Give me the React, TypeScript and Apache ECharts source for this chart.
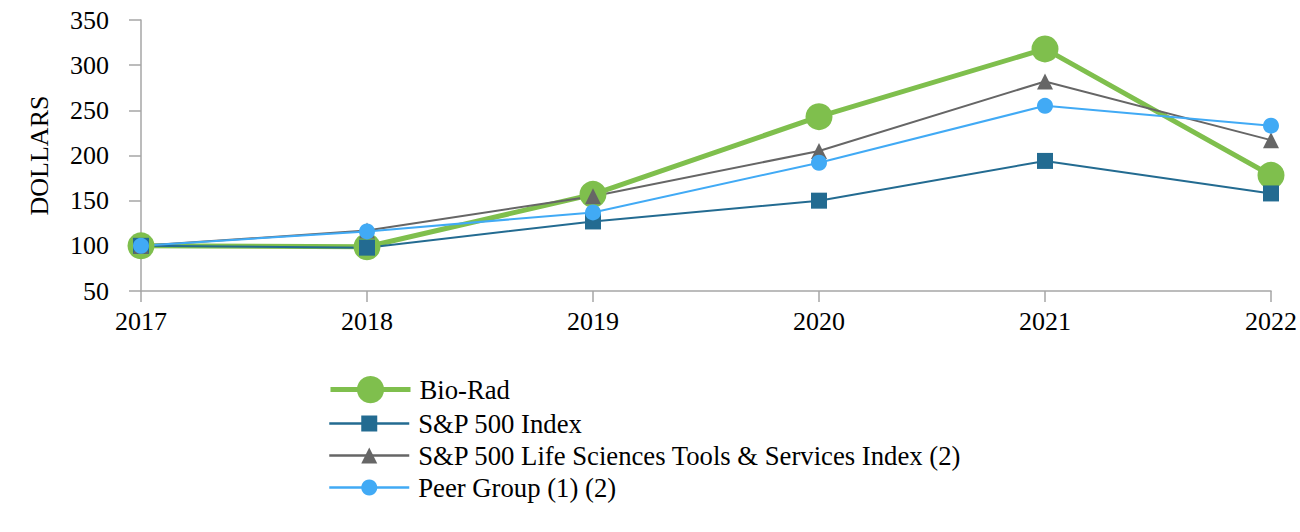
import React, { useEffect, useRef } from "react";
import * as echarts from "echarts";

const years = ["2017", "2018", "2019", "2020", "2021", "2022"];
const bioRad = [100, 99, 157, 243, 318, 178];
const sp500 = [100, 98, 127, 150, 194, 158];
const lifeSciences = [100, 117, 155, 205, 282, 217];
const peerGroup = [100, 116, 137, 192, 255, 233];
const yTicks = { min: 50, max: 350, interval: 50 };

const FONT = "Liberation Serif";
const AXIS_COLOR = "#a6a6a6";
const FS = 26;
const LEGEND_FS = 26.7;

export default function App() {
  const ref = useRef<HTMLDivElement>(null);
  useEffect(() => {
    if (!ref.current) return;
    const chart = echarts.init(ref.current, undefined, { renderer: "svg" });
    const legendText = {
      fontFamily: FONT,
      fontSize: LEGEND_FS,
      color: "#000",
      lineHeight: 27,
      padding: [0, 0, 0, 4],
    };
    chart.setOption({
      animation: false,
      backgroundColor: "#fff",
      textStyle: { fontFamily: FONT, fontSize: FS, color: "#000" },
      grid: { left: 141, right: 29, top: 20, bottom: 241, containLabel: false },
      xAxis: {
        type: "category",
        data: years,
        boundaryGap: false,
        axisLine: { lineStyle: { color: AXIS_COLOR, width: 1.5 } },
        axisTick: { show: true, length: 11, lineStyle: { color: AXIS_COLOR, width: 1.5 } },
        axisLabel: { fontFamily: FONT, fontSize: FS, color: "#000", margin: 17 },
        splitLine: { show: false },
      },
      yAxis: {
        type: "value",
        min: yTicks.min,
        max: yTicks.max,
        interval: yTicks.interval,
        name: "DOLLARS",
        nameLocation: "middle",
        nameGap: 89,
        nameTextStyle: { fontFamily: FONT, fontSize: FS, color: "#000" },
        axisLine: { show: true, lineStyle: { color: AXIS_COLOR, width: 1.5 } },
        axisTick: { show: true, length: 12, lineStyle: { color: AXIS_COLOR, width: 1.5 } },
        axisLabel: { fontFamily: FONT, fontSize: FS, color: "#000", margin: 32 },
        splitLine: { show: false },
      },
      legend: [
        {
          data: ["Bio-Rad"],
          orient: "vertical",
          left: 323,
          top: 371,
          itemWidth: 80,
          itemHeight: 34,
          itemGap: 0,
          lineStyle: { width: 5 },
          textStyle: legendText,
          selectedMode: false,
        },
        {
          data: ["S&P 500 Index", "S&P 500 Life Sciences Tools & Services Index (2)", "Peer Group (1) (2)"],
          orient: "vertical",
          left: 323,
          top: 405,
          itemWidth: 80,
          itemHeight: 20,
          itemGap: 5,
          lineStyle: { width: 2.5 },
          textStyle: legendText,
          selectedMode: false,
        },
      ],
      series: [
        {
          name: "Bio-Rad",
          type: "line",
          data: bioRad,
          symbol: "circle",
          symbolSize: 27,
          color: "#7fbf4d",
          lineStyle: { width: 5, color: "#7fbf4d" },
          itemStyle: { color: "#7fbf4d" },
        },
        {
          name: "S&P 500 Index",
          type: "line",
          data: sp500,
          symbol: "rect",
          symbolSize: 16,
          color: "#236b91",
          lineStyle: { width: 2, color: "#236b91" },
          itemStyle: { color: "#236b91" },
        },
        {
          name: "S&P 500 Life Sciences Tools & Services Index (2)",
          type: "line",
          data: lifeSciences,
          symbol: "triangle",
          symbolSize: 16,
          color: "#666666",
          lineStyle: { width: 2, color: "#666666" },
          itemStyle: { color: "#666666" },
        },
        {
          name: "Peer Group (1) (2)",
          type: "line",
          data: peerGroup,
          symbol: "circle",
          symbolSize: 16,
          color: "#41aaf5",
          lineStyle: { width: 2, color: "#41aaf5" },
          itemStyle: { color: "#41aaf5" },
        },
      ],
    });
    return () => chart.dispose();
  }, []);
  return (
    <div
      ref={ref}
      style={{ position: "absolute", left: 0, top: 0, width: 1300, height: 532, background: "#fff" }}
    />
  );
}
